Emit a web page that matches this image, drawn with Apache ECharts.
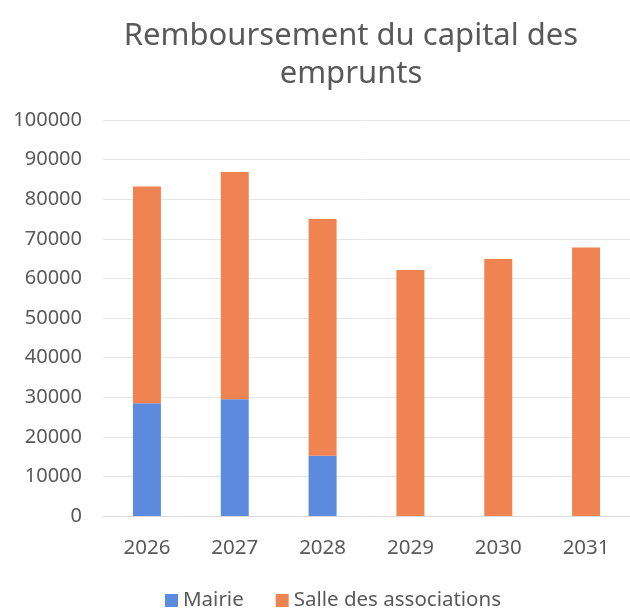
<!DOCTYPE html>
<html><head><meta charset="utf-8">
<script src="https://cdn.jsdelivr.net/npm/echarts@6/dist/echarts.min.js"></script>
<style>html,body{margin:0;padding:0;background:#fff}#c{width:630px;height:613px}</style>
</head><body><div id="c"></div>
<script>
const titleText = "Remboursement du capital des\nemprunts";
const categories = ["2026","2027","2028","2029","2030","2031"];
const seriesNames = ["Mairie","Salle des associations"];
const mairie = [28500, 29500, 15200, 0, 0, 0];
const salle = [54700, 57400, 59800, 62100, 64900, 67800];
const yTicks = {min:0, max:100000, interval:10000};

const font = "Noto Sans";
const chart = echarts.init(document.getElementById('c'));
chart.setOption({
  animation:false,
  title:{text:titleText,left:346,top:12,textAlign:'center',
    textStyle:{fontFamily:font,fontSize:31,fontWeight:'normal',color:'#595959',lineHeight:38}},
  legend:{top:585,left:160,itemWidth:13,itemHeight:13,itemGap:32,icon:'rect',
    textStyle:{fontFamily:font,fontSize:20.5,color:'#595959'},data:seriesNames},
  grid:{left:103,top:120,width:532,height:396},
  xAxis:{type:'category',data:categories,
    axisLine:{lineStyle:{color:'#d9d9d9'}},axisTick:{show:false},
    axisLabel:{fontFamily:font,fontSize:20.5,color:'#595959',margin:22}},
  yAxis:{type:'value',min:yTicks.min,max:yTicks.max,interval:yTicks.interval,
    splitLine:{lineStyle:{color:'#e6e6e6'}},axisLine:{show:false},axisTick:{show:false},
    axisLabel:{fontFamily:font,fontSize:20,color:'#595959',margin:21,formatter:v=>String(v)}},
  series:[
    {name:seriesNames[0],type:'bar',stack:'a',barWidth:28,data:mairie,itemStyle:{color:'#5b8ade'}},
    {name:seriesNames[1],type:'bar',stack:'a',barWidth:28,data:salle,itemStyle:{color:'#f08352'}}
  ]
});
</script></body></html>
